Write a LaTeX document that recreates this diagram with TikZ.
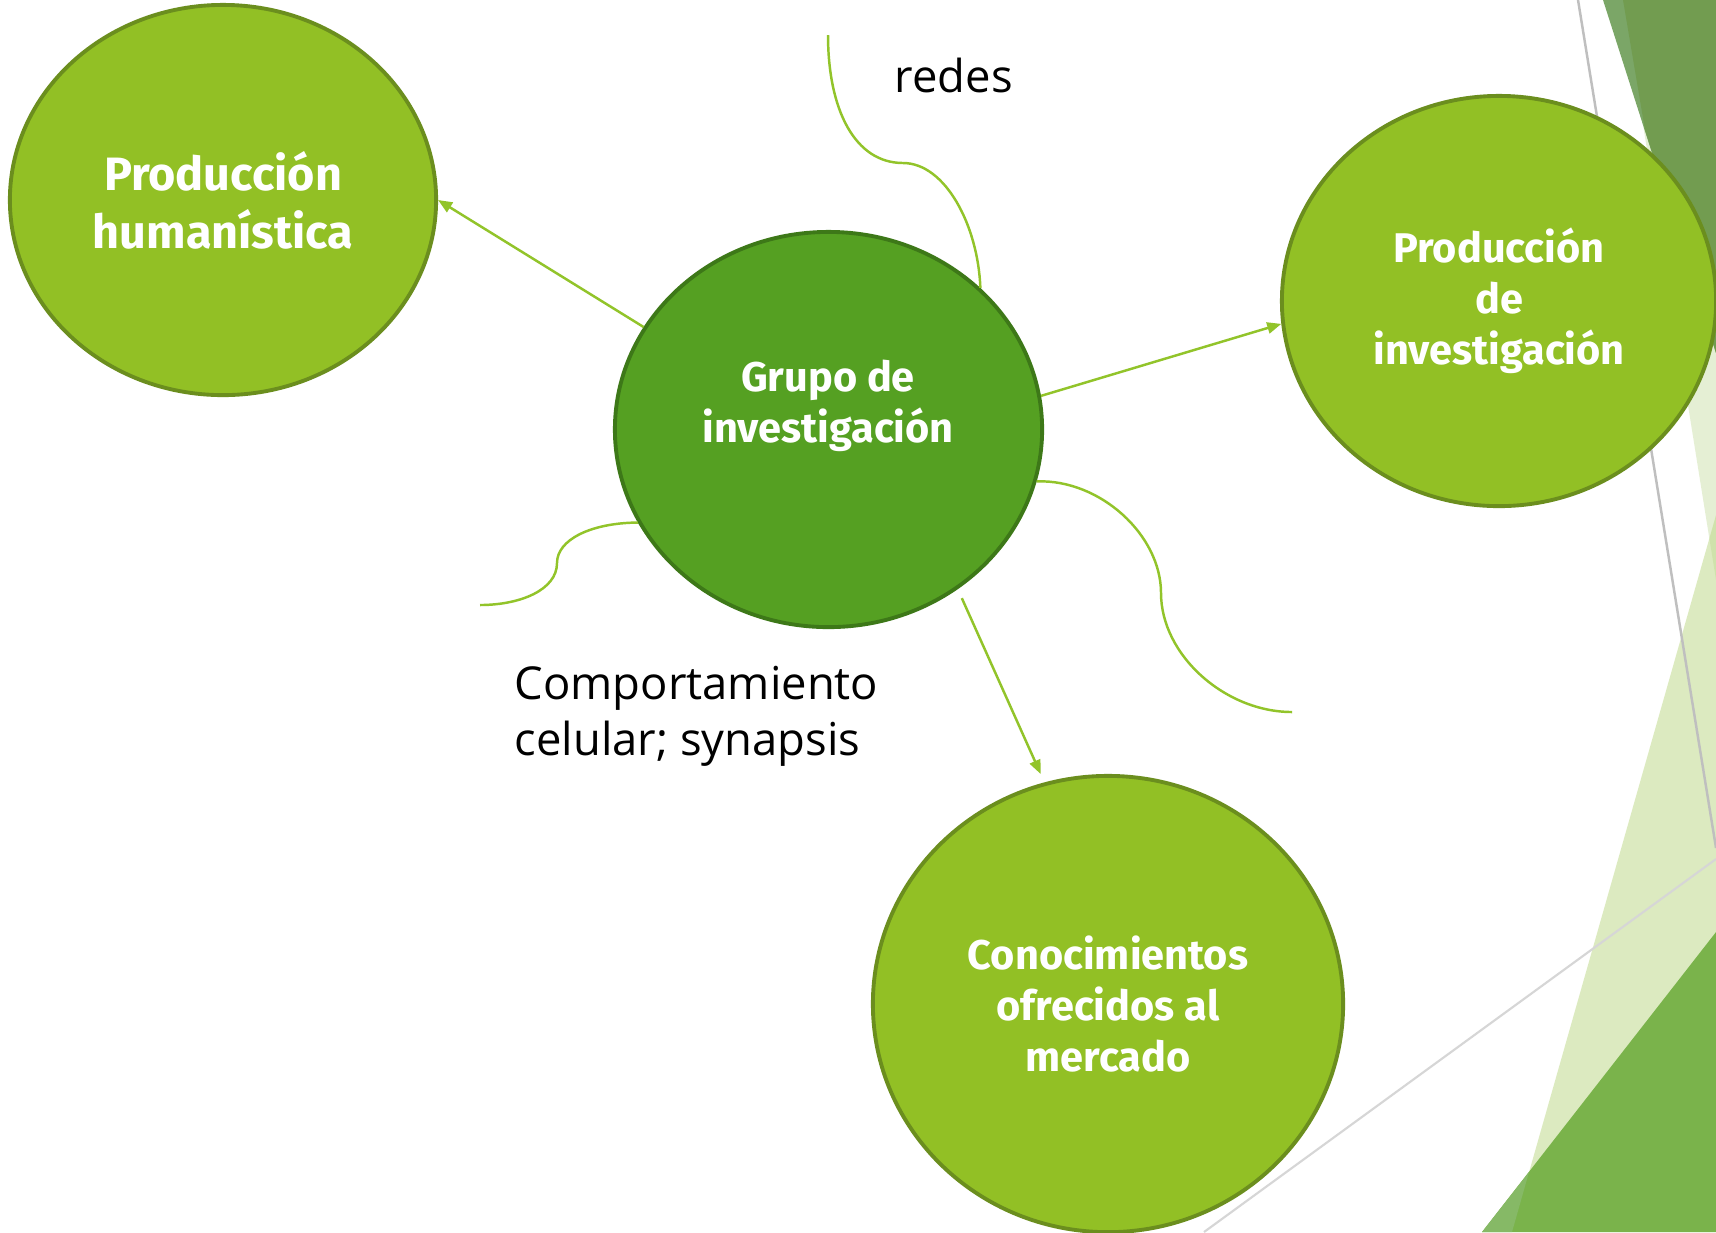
\documentclass[tikz,border=0pt]{standalone}
\usepackage{fontspec}
\setmainfont{Open Sans}
\newfontfamily\circfont{Fira Sans}
\usetikzlibrary{shapes.geometric,arrows.meta}

\definecolor{leaf}{HTML}{92C025}
\definecolor{leafedge}{HTML}{6B8E1E}
\definecolor{moss}{HTML}{55A022}
\definecolor{mossedge}{HTML}{3D7818}
\definecolor{vine}{HTML}{92C42A}
\definecolor{facetA}{HTML}{CDE1AB}
\definecolor{facetC}{HTML}{BBD783}
\definecolor{bark}{HTML}{729C50}
\definecolor{barklight}{HTML}{7BA667}
\definecolor{grass}{HTML}{7AB34B}
\definecolor{grasslight}{HTML}{86B966}

\begin{document}
\begin{tikzpicture}[x=0.01cm,y=-0.01cm,
    topic/.style={ellipse, draw=leafedge, line width=1.1pt, fill=leaf, text=white,
      font=\circfont\bfseries\fontsize{11.8pt}{14.5pt}\selectfont, align=center, inner sep=0pt},
    core/.style={topic, draw=mossedge, fill=moss},
    wire/.style={vine, line width=0.7pt},
    link/.style={wire, -{Triangle[length=4pt,width=3.2pt]}},
    txt/.style={inner sep=0pt, font=\fontsize{12.9pt}{16.2pt}\selectfont}]
    \useasboundingbox (0,0) rectangle (1716,1232);
    \fill[white] (0,0) rectangle (1716,1232);

    % Facets on the right
    \fill[facetA, fill opacity=0.5] (1623,0) -- (1716,0) -- (1716,580) -- cycle;
    \fill[facetC, fill opacity=0.5] (1716,515) -- (1716,1232) -- (1512,1232) -- cycle;
    \fill[barklight] (1603,0) -- (1716,0) -- (1716,353) -- cycle;
    \fill[bark] (1623,0) -- (1716,0) -- (1716,353) -- (1645,130) -- cycle;
    \fill[grass] (1716,932) -- (1716,1232) -- (1482,1232) -- cycle;
    \fill[grasslight] (1482,1232) -- (1512,1232) -- (1529,1172) -- cycle;
    \draw[black!25, line width=0.7pt] (1578,0) -- (1716,848);
    \draw[black!16, line width=0.6pt] (1716,859) -- (1204,1232);

    % Circles
    \node[topic, minimum width=4.26cm, minimum height=3.90cm,
      font=\circfont\bfseries\fontsize{13.3pt}{16.5pt}\selectfont]
      (humana) at (223,200) {Producción\\humanística};
    \node[core, minimum width=4.27cm, minimum height=3.95cm] (grupo) at (828.5,429.5) {};
    \node[inner sep=0pt, text=white, align=center,
      font=\circfont\bfseries\fontsize{11.8pt}{14.5pt}\selectfont]
      (grupolbl) at (828,406) {Grupo de\\investigación};
    \node[topic, minimum width=4.34cm, minimum height=4.10cm] (invest) at (1499,301)
      {Producción\\de\\investigación};
    \node[topic, minimum width=4.70cm, minimum height=4.56cm] (mercado) at (1108,1004)
      {Conocimientos\\ofrecidos al\\mercado};

    % Arrows
    \draw[link] (grupo.151) -- (humana.0);
    \draw[link] (grupo.9.5) -- (invest.186);
    \draw[link, shorten <=2.8pt, shorten >=2.6pt] (grupo.-51) -- (mercado.106);

    % Free curves
    \coordinate (redesend) at (828,35);
    \coordinate (leftend) at (480,605);
    \coordinate (rightend) at (1292,712);
    \draw[wire] (grupo.43) .. controls (978,225) and (945,163) .. (903,163)
      .. controls (855,163) and (828,110) .. (redesend);
    \draw[wire] (grupo.206) .. controls (590,523) and (557,540) .. (557,563)
      .. controls (557,590) and (520,605) .. (leftend);
    \draw[wire] (grupo.-14) .. controls (1100,479) and (1161,535) .. (1161,593)
      .. controls (1161,655) and (1225,712) .. (rightend);

    % Labels
    \node[txt, anchor=base west] (redes) at (894,92) {redes};
    \node[txt, anchor=north west, align=left] (compor) at (514,665)
      {Comportamiento\\celular; synapsis};
\end{tikzpicture}
\end{document}
